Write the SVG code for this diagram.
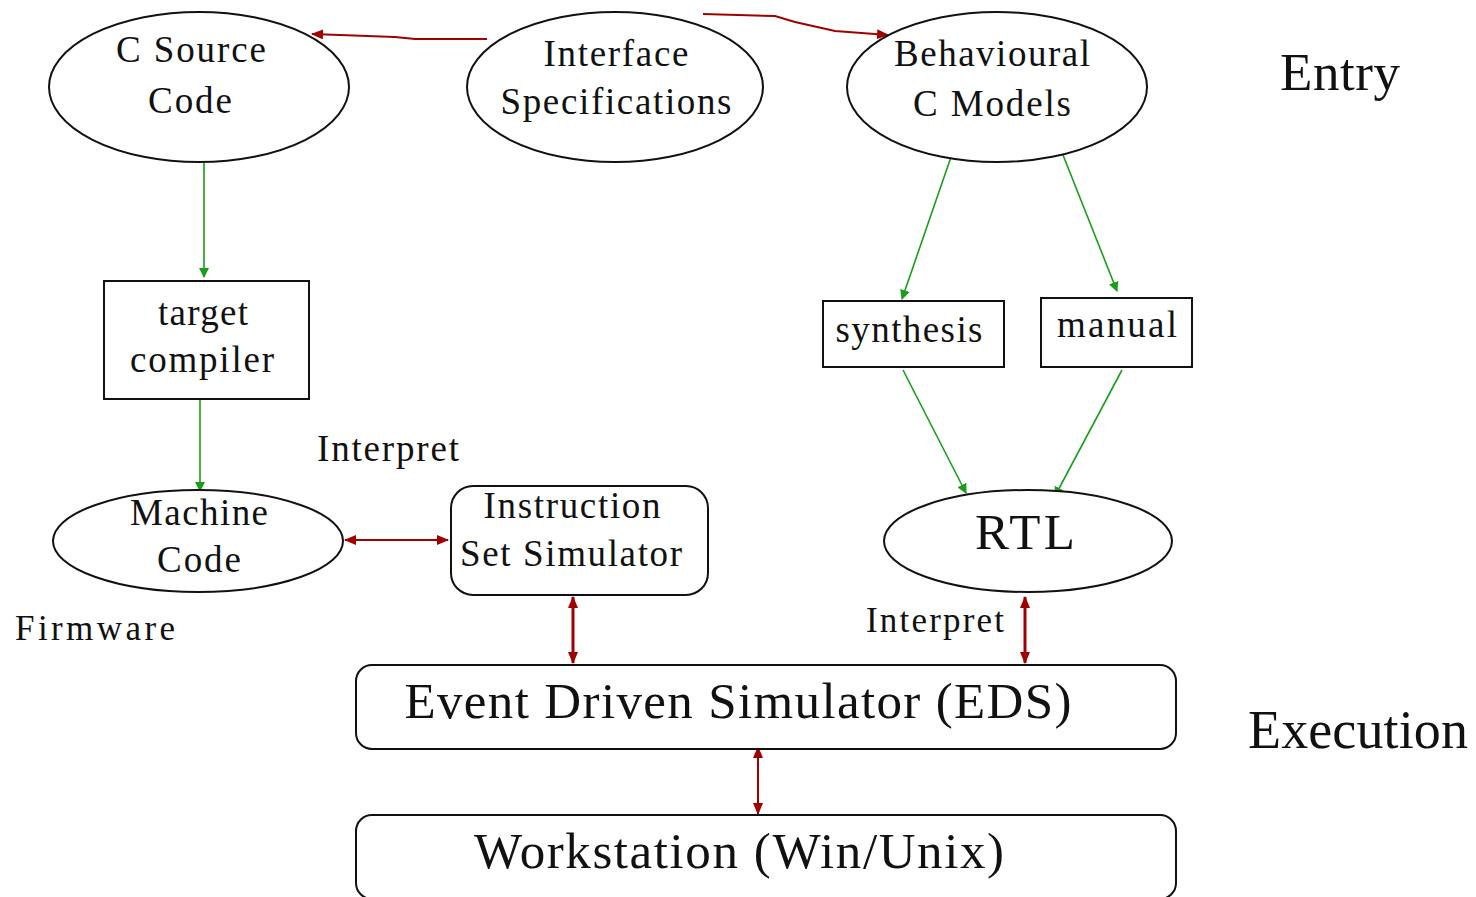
<svg xmlns="http://www.w3.org/2000/svg" width="1476" height="897" viewBox="0 0 1476 897">
<style>
.shape{fill:#fff;stroke:#111;stroke-width:2}
.t{font-family:"Liberation Serif","Times New Roman",serif;fill:#111;text-anchor:middle}
.n{font-size:37px}
.g{stroke:#1a9e1a;stroke-width:1.6;fill:none}
.r{stroke:#a00000;stroke-width:2;fill:none}
.rt{stroke:#a00000;stroke-width:3;fill:none}
</style>
<defs>
<marker id="ag" markerWidth="10" markerHeight="10" refX="9" refY="5" orient="auto" markerUnits="userSpaceOnUse"><path d="M0,0 L10,5 L0,10 z" fill="#1a9e1a"/></marker>
<marker id="ar" markerWidth="12" markerHeight="10" refX="11" refY="5" orient="auto" markerUnits="userSpaceOnUse"><path d="M0,0 L12,5 L0,10 z" fill="#a00000"/></marker>
<marker id="ars" markerWidth="12" markerHeight="10" refX="1" refY="5" orient="auto" markerUnits="userSpaceOnUse"><path d="M12,0 L0,5 L12,10 z" fill="#a00000"/></marker>
</defs>
<rect width="1476" height="897" fill="#fff"/>

<g id="connectors">
<polyline class="r" points="487,39 415,39 395,37 312,34" marker-end="url(#ar)"/>
<polyline class="r" points="703,14 775,16 795,22 835,31 888,35" marker-end="url(#ar)"/>
<line class="g" x1="204" y1="163" x2="204" y2="277" marker-end="url(#ag)"/>
<line class="g" x1="200" y1="399" x2="200" y2="491" marker-end="url(#ag)"/>
<line class="g" x1="951" y1="157" x2="902" y2="299" marker-end="url(#ag)"/>
<line class="g" x1="1063" y1="155" x2="1117" y2="291" marker-end="url(#ag)"/>
<line class="g" x1="903" y1="370" x2="966" y2="493" marker-end="url(#ag)"/>
<line class="g" x1="1122" y1="370" x2="1055" y2="496" marker-end="url(#ag)"/>
<line class="r" x1="345" y1="540" x2="448" y2="540" marker-start="url(#ars)" marker-end="url(#ar)"/>
<line class="rt" x1="573" y1="597" x2="573" y2="663" marker-start="url(#ars)" marker-end="url(#ar)"/>
<line class="rt" x1="1025" y1="597" x2="1025" y2="663" marker-start="url(#ars)" marker-end="url(#ar)"/>
<line class="r" x1="758" y1="747" x2="758" y2="814" marker-start="url(#ars)" marker-end="url(#ar)"/>
</g>

<g id="c-source">
<ellipse class="shape" cx="199" cy="87" rx="150" ry="75"/>
<text class="t n" x="191" y="62" textLength="150">C Source</text>
<text class="t n" x="190" y="113" textLength="84">Code</text>
</g>

<g id="interface-spec">
<ellipse class="shape" cx="615" cy="87" rx="148" ry="75"/>
<text class="t n" x="616" y="66" textLength="145">Interface</text>
<text class="t n" x="616" y="114" textLength="231">Specifications</text>
</g>

<g id="behavioural">
<ellipse class="shape" cx="997" cy="87" rx="150" ry="75"/>
<text class="t n" x="992" y="66" textLength="196">Behavioural</text>
<text class="t n" x="992" y="116" textLength="158">C Models</text>
</g>

<g id="target-compiler">
<rect class="shape" x="104" y="281" width="205" height="118"/>
<text class="t n" x="203" y="325" textLength="90">target</text>
<text class="t n" x="202" y="372" textLength="144">compiler</text>
</g>

<g id="synthesis">
<rect class="shape" x="823" y="301" width="181" height="66"/>
<text class="t n" x="909" y="342" textLength="147">synthesis</text>
</g>

<g id="manual">
<rect class="shape" x="1041" y="298" width="151" height="69"/>
<text class="t n" x="1117" y="337" textLength="120">manual</text>
</g>

<g id="machine-code">
<ellipse class="shape" cx="198" cy="541" rx="145" ry="51"/>
<text class="t n" x="199" y="525" textLength="138">Machine</text>
<text class="t n" x="199" y="572" textLength="84">Code</text>
</g>

<g id="iss">
<rect class="shape" x="451" y="486" width="257" height="109" rx="22" ry="22"/>
<text class="t n" x="572" y="518" textLength="177">Instruction</text>
<text class="t n" x="571" y="566" textLength="222">Set Simulator</text>
</g>

<g id="rtl">
<ellipse class="shape" cx="1028" cy="541" rx="144" ry="51"/>
<text class="t" x="1025" y="549" font-size="51" textLength="100">RTL</text>
</g>

<g id="eds">
<rect class="shape" x="356" y="665" width="820" height="84" rx="16" ry="16"/>
<text class="t" x="738" y="718" font-size="51" textLength="667">Event Driven Simulator (EDS)</text>
</g>

<g id="workstation">
<rect class="shape" x="356" y="815" width="820" height="84" rx="16" ry="16"/>
<text class="t" x="739" y="868" font-size="51" textLength="530">Workstation (Win/Unix)</text>
</g>

<g id="labels">
<text class="t" x="388" y="461" font-size="37" textLength="142">Interpret</text>
<text class="t" x="95" y="640" font-size="35" textLength="160">Firmware</text>
<text class="t" x="935" y="632" font-size="35" textLength="138">Interpret</text>
<text class="t" x="1340" y="90" font-size="53" textLength="120">Entry</text>
<text class="t" x="1358" y="748" font-size="54" textLength="220">Execution</text>
</g>
</svg>
